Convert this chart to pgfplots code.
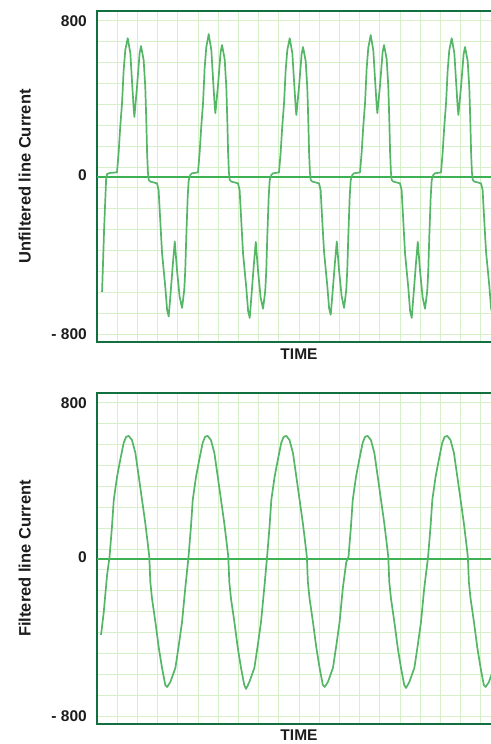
\documentclass[border=0pt]{standalone}
\usepackage{fontspec}
\setmainfont{Liberation Sans}
\usepackage{pgfplots}
\pgfplotsset{compat=1.18}

\definecolor{frame}{RGB}{18,112,64}
\definecolor{zero}{RGB}{62,178,82}
\definecolor{wave}{RGB}{84,182,102}
\definecolor{gridc}{RGB}{214,240,202}
\definecolor{txt}{RGB}{28,28,28}

\pgfplotsset{
  panel/.style={
    scale only axis, width=404pt, height=331pt,
    xmin=0, xmax=20, ymin=-840, ymax=850,
    xtick={1,...,19}, xticklabels={},
    ytick={-800,0,800}, yticklabels={- 800,\raisebox{5pt}{0},800},
    minor ytick={-800,-693.33,-586.67,-480,-373.33,-266.67,-160,-53.33,53.33,160,266.67,373.33,480,586.67,693.33,800},
    xmajorgrids, yminorgrids, ymajorgrids=false,
    major grid style={draw=gridc, line width=0.9pt},
    minor grid style={draw=gridc, line width=0.9pt},
    major tick length=0pt, minor tick length=0pt,
    axis line style={draw=frame, line width=2.5pt},
    tick label style={font=\fontsize{15.5}{18}\selectfont\bfseries, text=txt},
    yticklabel style={inner sep=0pt, xshift=-10pt},
    xlabel=TIME,
    xlabel style={at={(rel axis cs:0.5,0)}, anchor=north, inner sep=0pt, yshift=-7pt,
      font=\fontsize{15.5}{18}\selectfont\bfseries, text=txt},
    ylabel style={at={(rel axis cs:0,0.5)}, anchor=south, inner sep=0pt, yshift=66pt,
      font=\fontsize{16.5}{19}\selectfont\bfseries, text=txt},
  },
  wave/.style={draw=wave, line width=1.7pt, line join=round, no marks},
  zeroline/.style={draw=zero, line width=2pt, no marks},
}

\begin{document}
\begin{tikzpicture}
% unfiltered
\begin{axis}[panel, at={(97pt,402pt)}, anchor=south west, ylabel={Unfiltered line Current}]
\addplot[zeroline] coordinates {(0,0) (20,0)};
\addplot[wave] coordinates {
(0.25,-584) (0.30,-431) (0.35,-268) (0.41,-115) (0.45,-13) (0.50,18) (0.64,23) (0.99,26)
(1.07,125) (1.15,258) (1.24,380) (1.32,548) (1.40,650) (1.52,711) (1.65,635) (1.73,497) (1.82,344) (1.85,309) (1.98,462) (2.11,635) (2.18,671) (2.31,599) (2.39,462) (2.44,293) (2.48,125) (2.52,28) (2.56,-13) (2.64,-21) (2.97,-30) (3.05,-64) (3.13,-217) (3.22,-385) (3.38,-558) (3.47,-676) (3.55,-710) (3.63,-608) (3.76,-436) (3.85,-327) (3.96,-472) (4.09,-608) (4.21,-666) (4.32,-574) (4.37,-472) (4.42,-302) (4.49,-98) (4.54,-13) (4.62,13) (4.70,21) (5.00,26)
(5.08,125) (5.16,258) (5.25,380) (5.33,560) (5.41,665) (5.53,732) (5.66,650) (5.74,510) (5.83,360) (5.86,329) (5.99,470) (6.12,640) (6.19,676) (6.32,604) (6.40,466) (6.45,296) (6.49,127) (6.53,28) (6.57,-13) (6.65,-21) (6.98,-30) (7.06,-64) (7.14,-217) (7.23,-388) (7.39,-562) (7.48,-682) (7.56,-717) (7.64,-612) (7.77,-438) (7.86,-329) (7.97,-474) (8.10,-612) (8.22,-670) (8.33,-578) (8.38,-474) (8.43,-302) (8.50,-98) (8.55,-13) (8.63,13) (8.71,21) (9.01,26)
(9.09,125) (9.17,258) (9.26,380) (9.34,548) (9.42,650) (9.54,711) (9.67,635) (9.75,500) (9.84,350) (9.87,319) (10.00,462) (10.13,630) (10.20,666) (10.33,595) (10.41,460) (10.46,292) (10.50,125) (10.54,28) (10.58,-13) (10.66,-21) (10.99,-30) (11.07,-64) (11.15,-217) (11.24,-380) (11.40,-552) (11.49,-668) (11.57,-701) (11.65,-602) (11.78,-434) (11.87,-327) (11.98,-470) (12.11,-606) (12.23,-666) (12.34,-574) (12.39,-472) (12.44,-302) (12.51,-98) (12.56,-13) (12.64,13) (12.72,21) (13.02,26)
(13.10,125) (13.18,258) (13.27,380) (13.35,558) (13.43,662) (13.55,727) (13.68,648) (13.76,508) (13.85,358) (13.88,329) (14.01,470) (14.14,640) (14.21,676) (14.34,604) (14.42,466) (14.47,296) (14.51,127) (14.55,28) (14.59,-13) (14.67,-21) (15.00,-30) (15.08,-64) (15.16,-217) (15.25,-388) (15.41,-562) (15.50,-682) (15.58,-717) (15.66,-612) (15.79,-438) (15.88,-329) (15.99,-474) (16.12,-612) (16.24,-670) (16.35,-578) (16.40,-474) (16.45,-302) (16.52,-98) (16.57,-13) (16.65,13) (16.73,21) (17.03,26)
(17.11,125) (17.19,258) (17.28,380) (17.36,548) (17.44,650) (17.56,711) (17.69,635) (17.77,500) (17.86,350) (17.89,319) (18.02,462) (18.15,630) (18.22,666) (18.35,595) (18.43,460) (18.48,292) (18.52,125) (18.56,28) (18.60,-13) (18.68,-21) (19.01,-30) (19.09,-64) (19.17,-217) (19.26,-380) (19.42,-552) (19.51,-668) (19.59,-701) (19.67,-602) (19.80,-434)
};
\end{axis}
% filtered
\begin{axis}[panel, at={(97pt,20pt)}, anchor=south west, ylabel={Filtered line Current},
  xlabel style={yshift=1pt}]
\addplot[zeroline] coordinates {(0,0) (20,0)};
\addplot[wave] coordinates {
(0.20,-385) (0.33,-273) (0.41,-181) (0.50,-79) (0.62,13) (0.74,166) (0.83,304) (0.99,421) (1.15,508) (1.32,595) (1.44,626) (1.57,631) (1.73,610) (1.90,544) (2.07,421) (2.23,304) (2.39,186) (2.51,84) (2.59,13) (2.64,-115) (2.72,-197) (2.89,-319) (3.06,-452) (3.22,-554) (3.38,-641) (3.47,-651) (3.63,-626) (3.88,-554) (4.05,-437) (4.21,-319) (4.37,-146)
(4.53,13) (4.65,166) (4.74,304) (4.90,421) (5.06,508) (5.23,595) (5.35,626) (5.48,631) (5.64,610) (5.81,544) (5.98,421) (6.14,304) (6.30,186) (6.42,84) (6.50,13) (6.55,-115) (6.63,-197) (6.80,-319) (6.97,-452) (7.13,-554) (7.29,-641) (7.38,-661) (7.54,-626) (7.79,-554) (7.96,-437) (8.12,-319) (8.28,-146)
(8.42,13) (8.54,166) (8.63,304) (8.79,421) (8.95,508) (9.12,595) (9.24,626) (9.37,631) (9.53,610) (9.70,544) (9.87,421) (10.03,304) (10.19,186) (10.31,84) (10.39,13) (10.44,-115) (10.52,-197) (10.69,-319) (10.86,-452) (11.02,-554) (11.18,-641) (11.27,-651) (11.43,-626) (11.68,-554) (11.85,-437) (12.01,-319) (12.17,-146) (12.34,-13)
(12.45,13) (12.57,166) (12.66,304) (12.82,421) (12.98,508) (13.15,595) (13.27,626) (13.40,631) (13.56,610) (13.73,544) (13.90,421) (14.06,304) (14.22,186) (14.34,84) (14.42,13) (14.47,-115) (14.55,-197) (14.72,-319) (14.89,-452) (15.05,-554) (15.21,-641) (15.30,-656) (15.46,-626) (15.71,-554) (15.88,-437) (16.04,-319) (16.20,-146)
(16.39,13) (16.51,166) (16.60,304) (16.76,421) (16.92,508) (17.09,595) (17.21,626) (17.34,631) (17.50,610) (17.67,544) (17.84,421) (18.00,304) (18.16,186) (18.28,84) (18.36,13) (18.41,-115) (18.49,-197) (18.66,-319) (18.83,-452) (18.99,-554) (19.15,-641) (19.24,-651) (19.40,-626) (19.65,-554) (19.82,-437)
};
\end{axis}
\pgfresetboundingbox
\useasboundingbox (0,0) rectangle (490pt,744pt);
\end{tikzpicture}
\end{document}
